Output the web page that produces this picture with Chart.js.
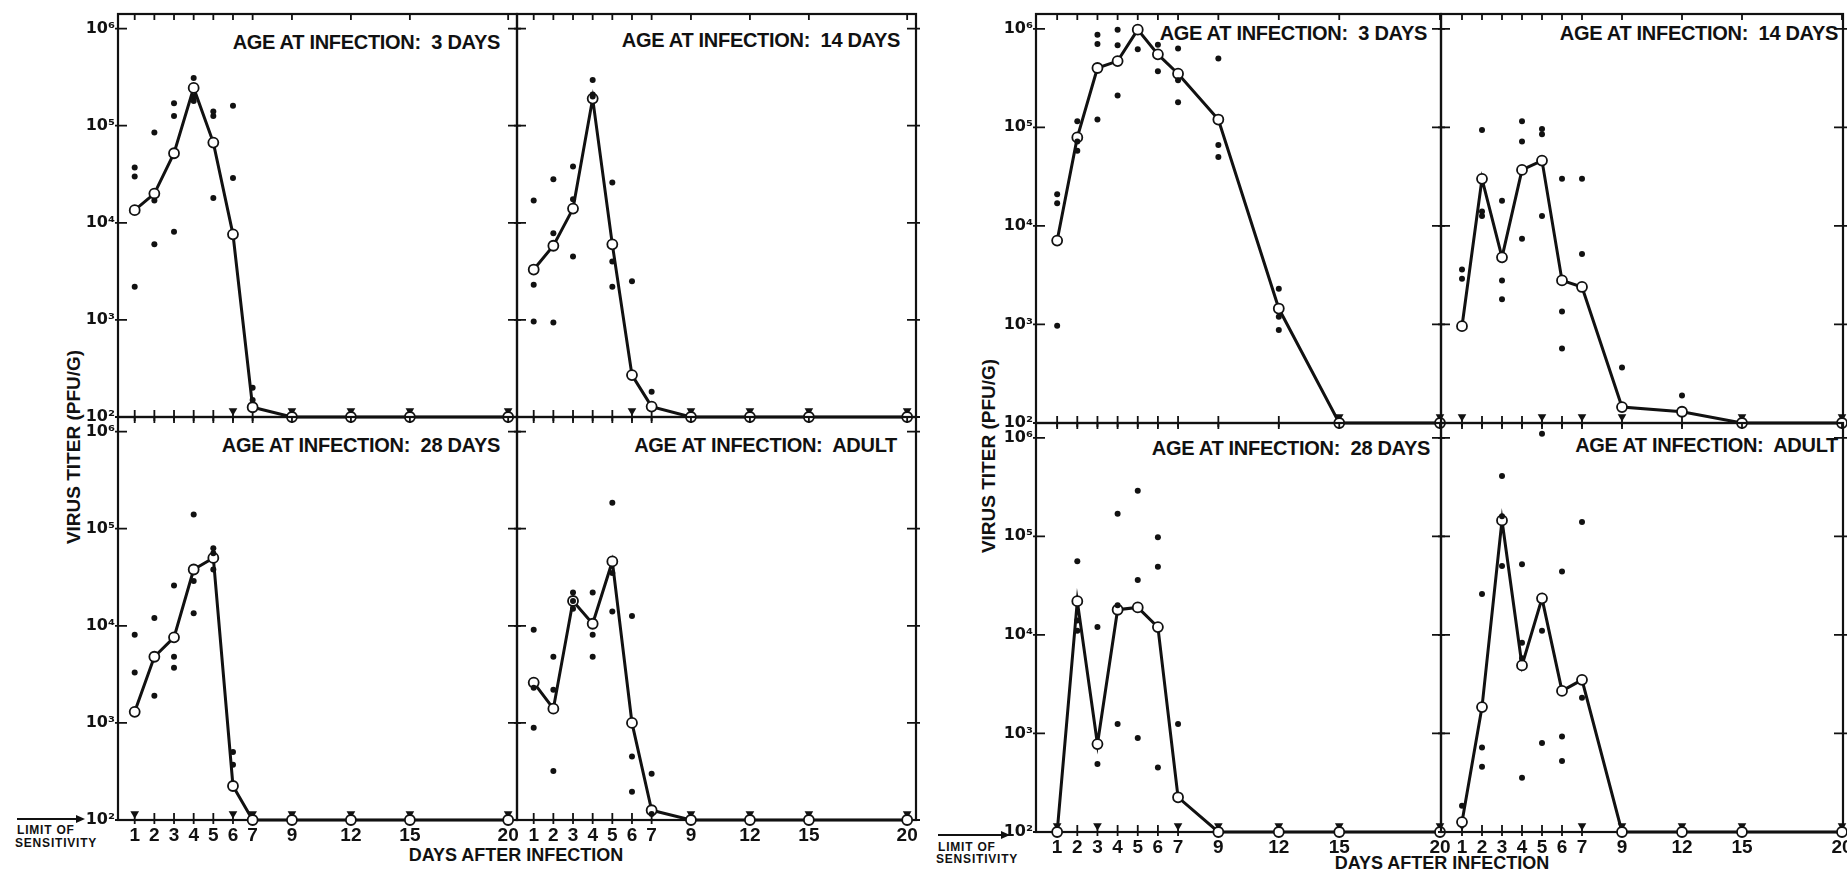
<!DOCTYPE html>
<html><head><meta charset="utf-8">
<script src="https://cdn.jsdelivr.net/npm/chart.js@4.4.1/dist/chart.umd.min.js"></script>
<style>
html,body{margin:0;padding:0;background:#fff;}
#stage{position:relative;width:1847px;height:873px;overflow:hidden;background:#fff;font-family:"Liberation Sans",Arial,sans-serif;color:#111;}
#stage canvas{position:absolute;}
.t{position:absolute;font-weight:bold;white-space:pre;line-height:1;}
.title{font-size:20px;transform:translate(-100%,-50%);letter-spacing:-0.3px;}
.ylab{font-size:19px;transform:translate(-50%,-50%) rotate(-90deg);}
.xlab{font-size:18px;transform:translate(-50%,-50%);}
.lim{font-size:12px;letter-spacing:0.8px;transform:translate(0,-50%);}
.arr{position:absolute;height:0;border-top:2px solid #111;}
.head{position:absolute;width:0;height:0;border-left:9px solid #111;border-top:4px solid transparent;border-bottom:4px solid transparent;}
</style></head><body>
<div id="stage">
  <div class="t title" style="left:500px;top:42px">AGE AT INFECTION:  3 DAYS</div>
  <div class="t title" style="left:900px;top:40px">AGE AT INFECTION:  14 DAYS</div>
  <div class="t title" style="left:500px;top:445px">AGE AT INFECTION:  28 DAYS</div>
  <div class="t title" style="left:897px;top:445px">AGE AT INFECTION:  ADULT</div>
  <div class="t title" style="left:1427px;top:33px">AGE AT INFECTION:  3 DAYS</div>
  <div class="t title" style="left:1838px;top:33px">AGE AT INFECTION:  14 DAYS</div>
  <div class="t title" style="left:1430px;top:448px">AGE AT INFECTION:  28 DAYS</div>
  <div class="t title" style="left:1838px;top:445px">AGE AT INFECTION:  ADULT</div>

  <div class="t ylab" style="left:73px;top:447px">VIRUS TITER (PFU/G)</div>
  <div class="t ylab" style="left:988px;top:456px">VIRUS TITER (PFU/G)</div>
  <div class="t xlab" style="left:516px;top:855px">DAYS AFTER INFECTION</div>
  <div class="t xlab" style="left:1442px;top:863px">DAYS AFTER INFECTION</div>

  <div class="arr" style="left:17px;top:818px;width:62px"></div>
  <div class="head" style="left:76px;top:815px"></div>
  <div class="t lim" style="left:17px;top:830px">LIMIT OF</div>
  <div class="t lim" style="left:15px;top:843px">SENSITIVITY</div>

  <div class="arr" style="left:938px;top:834px;width:66px"></div>
  <div class="head" style="left:1001px;top:831px"></div>
  <div class="t lim" style="left:938px;top:847px">LIMIT OF</div>
  <div class="t lim" style="left:936px;top:859px">SENSITIVITY</div>
</div>
<script>
// ---------- data ----------
const days = [1, 2, 3, 4, 5, 6, 7, 9, 12, 15, 20];
const xTickValues = [1, 2, 3, 4, 5, 6, 7, 9, 12, 15, 20];
const yTickValues = [1e2, 1e3, 1e4, 1e5, 1e6];
const yTickLabels = ['10²', '10³', '10⁴', '10⁵', '10⁶'];
const limitOfSensitivity = 100;
const belowLimitMarker = 116;

// Experiment 1 (left figure)
const mean1_3d  = [1.35e4, 2.0e4, 5.2e4, 2.45e5, 6.7e4, 7.6e3, 126, 100, 100, 100, 100];
const dots1_3d  = [[3.7e4, 3.0e4, 2.2e3], [8.5e4, 1.7e4, 6e3], [1.7e5, 1.26e5, 8.1e3], [3.1e5, 2.0e5, 1.8e5], [1.4e5, 1.26e5, 1.8e4], [1.6e5, 2.9e4], [200, 150], [], [], [], []];
const below1_3d = [6, 9, 12, 15, 20];

const mean1_14d  = [3.3e3, 5.8e3, 1.4e4, 1.9e5, 6e3, 270, 128, 100, 100, 100, 100];
const dots1_14d  = [[1.7e4, 2.3e3, 960], [2.8e4, 7.8e3, 940], [3.8e4, 1.75e4, 4.5e3], [2.95e5, 2.1e5, 2.0e5], [2.6e4, 4e3, 2.2e3], [2.5e3], [182], [], [], [], []];
const below1_14d = [6, 9, 12, 15, 20];

const mean1_28d  = [1.3e3, 4.8e3, 7.6e3, 3.8e4, 5e4, 224, 100, 100, 100, 100, 100];
const dots1_28d  = [[8.1e3, 3.3e3], [1.2e4, 1.9e3], [2.6e4, 4.8e3, 3.7e3], [1.4e5, 2.9e4, 1.35e4], [6.3e4, 5.6e4, 3.8e4], [500, 370], [], [], [], [], []];
const below1_28d = [1, 6, 7, 9, 12, 15, 20];

const mean1_ad  = [2.6e3, 1.4e3, 1.8e4, 1.05e4, 4.6e4, 1.0e3, 126, 100, 100, 100, 100];
const dots1_ad  = [[9.1e3, 2.3e3, 890], [4.8e3, 2.2e3, 320], [2.2e4, 1.8e4, 1.5e4], [2.2e4, 8.1e3, 4.8e3], [1.85e5, 3.5e4, 1.4e4], [1.26e4, 450, 195], [300, 115], [], [], [], []];
const below1_ad = [9, 12, 15, 20];

// Experiment 2 (right figure)
const mean2_3d  = [7.1e3, 7.9e4, 4e5, 4.7e5, 9.8e5, 5.5e5, 3.5e5, 1.2e5, 1.45e3, 100, 100];
const dots2_3d  = [[2.1e4, 1.7e4, 970], [1.15e5, 7.2e4, 5.8e4], [8.7e5, 7e5, 1.2e5], [9.8e5, 6.8e5, 2.1e5], [6.2e5], [6.9e5, 3.7e5], [6.3e5, 3e5, 1.8e5], [5e5, 6.6e4, 5e4], [2.3e3, 1.2e3, 880], [], []];
const below2_3d = [15, 20];

const mean2_14d  = [960, 3e4, 4.8e3, 3.7e4, 4.6e4, 2.8e3, 2.4e3, 145, 130, 100, 100];
const dots2_14d  = [[3.6e3, 2.9e3], [9.4e4, 1.4e4, 1.26e4], [1.8e4, 2.8e3, 1.8e3], [1.15e5, 7.2e4, 7.4e3], [9.6e4, 8.5e4, 1.26e4], [3e4, 1.35e3, 570], [3e4, 5.2e3], [365], [190], [], []];
const below2_14d = [1, 5, 7, 9, 15, 20];

const mean2_28d  = [100, 2.2e4, 780, 1.8e4, 1.9e4, 1.2e4, 225, 100, 100, 100, 100];
const dots2_28d  = [[], [5.6e4, 1.4e4, 1.1e4], [1.2e4, 490], [1.7e5, 2e4, 1.25e3], [2.9e5, 3.6e4, 900], [9.8e4, 4.9e4, 450], [1.25e3], [], [], [], []];
const below2_28d = [1, 3, 7, 9, 12, 15, 20];

const mean2_ad  = [126, 1.85e3, 1.45e5, 4.9e3, 2.35e4, 2.7e3, 3.5e3, 100, 100, 100, 100];
const dots2_ad  = [[185], [2.6e4, 720, 460], [4.1e5, 1.6e5, 5e4], [5.2e4, 8.3e3, 5.8e3, 355], [1.1e6, 1.1e4, 800], [4.4e4, 930, 525], [1.4e5, 2.3e3], [], [], [], []];
const below2_ad = [1, 7, 9, 12, 15, 20];

// ---------- layout ----------
const panels = [
  {mean: mean1_3d,  dots: dots1_3d,  below: below1_3d,  rect: [118, 14, 517, 417],  xr: [0.15, 20.45], showY: true,  showX: false},
  {mean: mean1_14d, dots: dots1_14d, below: below1_14d, rect: [517, 14, 916, 417],  xr: [0.15, 20.45], showY: false, showX: false},
  {mean: mean1_28d, dots: dots1_28d, below: below1_28d, rect: [118, 417, 517, 820], xr: [0.15, 20.45], showY: true,  showX: true},
  {mean: mean1_ad,  dots: dots1_ad,  below: below1_ad,  rect: [517, 417, 916, 820], xr: [0.15, 20.45], showY: false, showX: true},
  {mean: mean2_3d,  dots: dots2_3d,  below: below2_3d,  rect: [1036, 14, 1441, 423],  xr: [-0.05, 20.05], showY: true,  showX: false},
  {mean: mean2_14d, dots: dots2_14d, below: below2_14d, rect: [1441, 14, 1843, 423],  xr: [-0.05, 20.05], showY: false, showX: false},
  {mean: mean2_28d, dots: dots2_28d, below: below2_28d, rect: [1036, 423, 1441, 832], xr: [-0.05, 20.05], showY: true,  showX: true},
  {mean: mean2_ad,  dots: dots2_ad,  below: below2_ad,  rect: [1441, 423, 1843, 832], xr: [-0.05, 20.05], showY: false, showX: true}
];

const INK = '#111';
const framePlugin = {
  id: 'frame',
  beforeDatasetsDraw(chart) {
    const ctx = chart.ctx;
    const {left, right, top, bottom} = chart.chartArea;
    const xs = chart.scales.x, ys = chart.scales.y;
    ctx.save();
    ctx.strokeStyle = INK;
    ctx.lineWidth = 2.2;
    ctx.strokeRect(left, top, right - left, bottom - top);
    ctx.lineWidth = 1.8;
    ctx.beginPath();
    xs.ticks.forEach(t => {
      const px = xs.getPixelForValue(t.value);
      ctx.moveTo(px, bottom - 7); ctx.lineTo(px, bottom + 4);
      ctx.moveTo(px, top); ctx.lineTo(px, top + 6);
    });
    ys.ticks.forEach(t => {
      const py = ys.getPixelForValue(t.value);
      ctx.moveTo(left - 3, py); ctx.lineTo(left + 9, py);
      ctx.moveTo(right - 9, py); ctx.lineTo(right + 4, py);
    });
    ctx.stroke();
    ctx.restore();
  }
};

const stage = document.getElementById('stage');
const padL = 70, padT = 14, padR = 14, padB = 44;

panels.forEach(p => {
  const [L, T, R, B] = p.rect;
  const w = R - L + padL + padR, h = B - T + padT + padB;
  const c = document.createElement('canvas');
  c.width = w; c.height = h;
  c.style.left = (L - padL) + 'px'; c.style.top = (T - padT) + 'px';
  c.style.width = w + 'px'; c.style.height = h + 'px';
  stage.appendChild(c);

  const meanData = days.map((d, i) => ({x: d, y: p.mean[i]}));
  const dotData = [];
  days.forEach((d, i) => p.dots[i].forEach(v => dotData.push({x: d, y: v})));
  const belowData = p.below.map(d => ({x: d, y: belowLimitMarker}));

  new Chart(c, {
    type: 'scatter',
    data: {
      datasets: [
        {data: dotData, pointRadius: 3, pointBackgroundColor: INK, pointBorderWidth: 0, showLine: false, clip: false, order: 0},
        {data: meanData, showLine: true, borderColor: INK, borderWidth: 3, tension: 0,
         pointRadius: 5, pointBackgroundColor: '#fff', pointBorderColor: INK, pointBorderWidth: 1.8, clip: false, order: 1},
        {data: belowData, pointStyle: 'triangle', rotation: 180, pointRadius: 5, pointBackgroundColor: INK, pointBorderColor: INK, pointBorderWidth: 0, showLine: false, clip: false, order: 2}
      ]
    },
    options: {
      responsive: false, animation: false, devicePixelRatio: 1, events: [],
      layout: {padding: {top: padT, right: padR, left: 0, bottom: 0}},
      plugins: {legend: {display: false}, tooltip: {enabled: false}, title: {display: false}},
      scales: {
        x: {
          type: 'linear', position: 'bottom', min: p.xr[0], max: p.xr[1],
          afterBuildTicks: s => { s.ticks = xTickValues.map(v => ({value: v})); },
          afterFit: s => { s.height = padB; },
          grid: {display: false, drawTicks: false}, border: {display: false},
          ticks: {display: p.showX, autoSkip: false, maxRotation: 0, padding: 4, color: INK,
                  font: {family: 'Liberation Sans', weight: 'bold', size: 19}, callback: v => String(v)}
        },
        y: {
          type: 'logarithmic', position: 'left', min: limitOfSensitivity, max: Math.pow(10, 6.15),
          afterBuildTicks: s => { s.ticks = yTickValues.map(v => ({value: v})); },
          afterFit: s => { s.width = padL; },
          grid: {display: false, drawTicks: false}, border: {display: false},
          ticks: {display: p.showY, padding: 3, color: INK,
                  font: {family: 'DejaVu Sans', weight: 'bold', size: 16},
                  callback: v => { const i = yTickValues.indexOf(v); return i >= 0 ? yTickLabels[i] : ''; }}
        }
      }
    },
    plugins: [framePlugin]
  });
});
</script>
</body></html>
